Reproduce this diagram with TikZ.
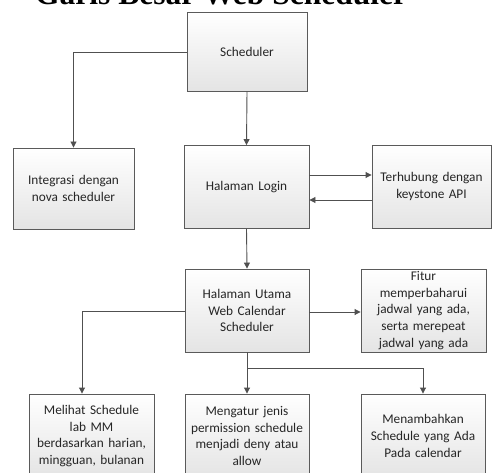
\documentclass[tikz,border=0pt]{standalone}
\usepackage{fontspec}
\setmainfont{Carlito}
\newfontfamily\titlefont{Liberation Serif}
\usetikzlibrary{arrows.meta,calc}
\definecolor{edgegray}{HTML}{505050}
\definecolor{boxline}{HTML}{5A5A5A}
\definecolor{boxbottom}{HTML}{E4E4E4}
\tikzset{
  box/.style={draw=boxline, line width=0.9pt, top color=white, bottom color=boxbottom,
    rectangle, inner sep=0pt, align=center, font=\fontsize{13.3}{16.6}\selectfont, text=black!85},
  arr/.style={draw=edgegray, line width=0.9pt, -{Triangle[length=6pt,width=6pt]}},
}
\begin{document}
\begin{tikzpicture}[x=1pt,y=-1pt]
\useasboundingbox (0,0) rectangle (492,473);
% title (partially clipped by the page top, as in the reference)
\node[anchor=base west, inner sep=0, font=\titlefont\bfseries\fontsize{31.5}{34}\selectfont] (title) at (35,4.5) {Garis Besar Web Scheduler};
% boxes
\node[box, minimum width=120, minimum height=79, text width=112] (sched) at (247,51.5) {Scheduler};
\node[box, minimum width=121, minimum height=81, text width=115] (integ) at (73.5,188.5) {Integrasi dengan\\nova scheduler};
\node[box, minimum width=125, minimum height=83, text width=118] (login) at (246.5,187) {Halaman Login};
\node[box, minimum width=119, minimum height=83, text width=114] (keys) at (431.5,186.5) {Terhubung dengan\\keystone API};
\node[box, minimum width=124, minimum height=83, text width=118] (utama) at (247,310.5) {Halaman Utama\\Web Calendar\\Scheduler};
\node[box, minimum width=125, minimum height=83, text width=120] (fitur) at (423.5,310.5) {Fitur\\memperbaharui\\jadwal yang ada,\\serta merepeat\\jadwal yang ada};
\node[box, minimum width=125, minimum height=84, text width=120] (melihat) at (91.5,436) {Melihat Schedule\\lab MM\\berdasarkan harian,\\mingguan, bulanan};
\node[box, minimum width=124, minimum height=84, text width=120] (atur) at (247,436) {Mengatur jenis\\permission schedule\\menjadi deny atau\\allow};
\node[box, minimum width=124, minimum height=84, text width=120] (tambah) at (423,436) {Menambahkan\\Schedule yang Ada\\Pada calendar};
% connectors
\draw[arr] (sched.west |- 0,52) -| (integ.north);
\draw[arr] (sched.south) -- (login.north);
\draw[arr] (login.east |- 0,175) -- (keys.west |- 0,175);
\draw[arr] (keys.west |- 0,200) -- (login.east |- 0,200);
\draw[arr] (login.south) -- (utama.north);
\draw[arr] (utama.east |- 0,312) -- (fitur.west |- 0,312);
\draw[arr] (utama.west |- 0,311) -| ([xshift=-9.5]melihat.north);
\draw[arr] (utama.south) -- (atur.north);
\coordinate (br) at (utama.south |- 0,368);
\draw[arr] (br) -| (tambah.north);
\end{tikzpicture}
\end{document}
